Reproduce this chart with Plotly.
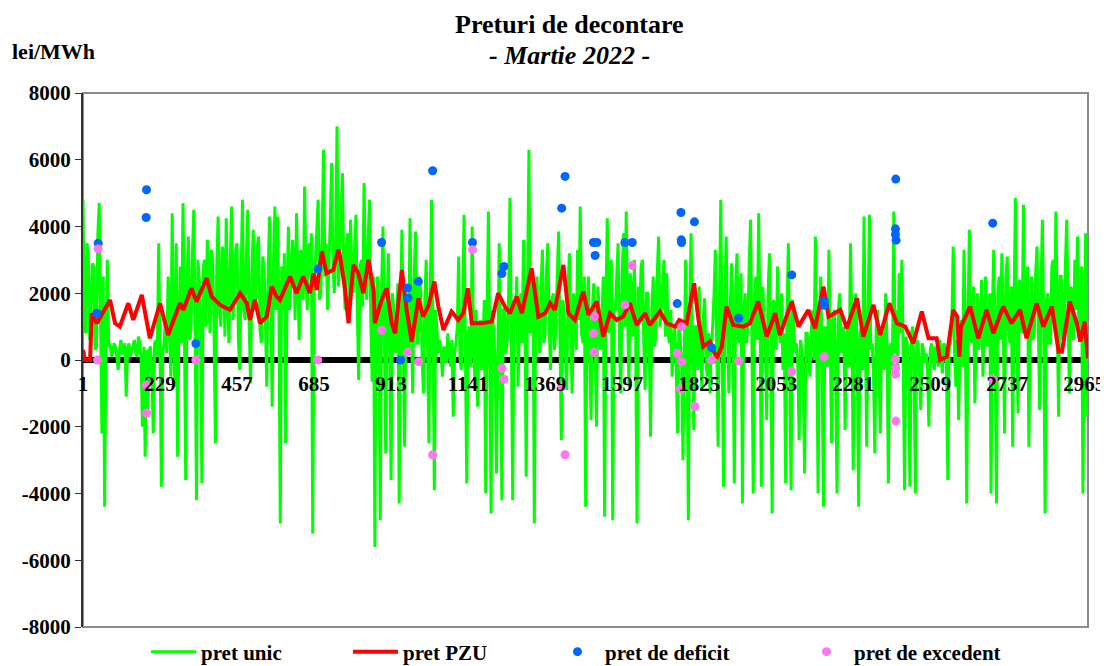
import plotly.graph_objects as go

# pret unic: one reading every 4 quarter-hours (24 per day, 31 days)
unic_step = 4
pret_unic = [
    4800, 1500, 800, 3500, 3000, 600, 1500, 2900, 2800, 300, 400, 3800, 4700, 1000, -2200, 2500, -4400, 600, 3000, 400, 500, 100, 200, 500,
    400, 100, -300, 300, 600, 200, 200, 500, -1100, 300, 500, 100, 300, 400, 600, 200, 100, 700, 500, 0, -2000, 400, -2900, 300,
    -1600, 300, 400, -400, -2200, 500, 600, 100, 3500, 400, -3800, 200, 500, 1200, 200, 2500, 1500, -500, 4400, 800, -800, 3500, -2900, 1000,
    2800, 500, 4700, 1200, -3600, 2500, 3700, 600, 1000, 3200, 4500, 800, -4200, 3000, 2500, 500, -3700, 2800, 3000, 1000, 3600, 2000, 800, 3300,
    3000, 800, -2500, 2800, 4300, 1500, 1000, 3400, 3200, 700, 4250, 1800, 500, 3000, 4600, 1200, 2000, 3300, 3500, 600, -300, 2500, 4800, 1500,
    1200, 3200, 4500, 1000, -700, 2600, 3900, 1500, 2000, 3400, 3700, 900, 500, 3100, 2800, 1200, -800, 2500, 4300, 1800, -1400, 3000, 4600, 1500,
    4300, 1500, -4900, 2800, 1500, 3200, -2500, 2000, 4000, 1500, 2500, 3600, 3000, 1200, 4400, 2200, 600, 3300, 3000, 1800, 5200, 2400, 1500, 3500,
    2500, 3800, -5200, 2000, 3000, 4000, 4800, 1800, 2000, 3600, 6300, 2500, 3500, 1500, 2600, 4200, 5900, 2800, 2000, 3500, 7000, 2200, 3000, 4300,
    5600, 2500, 1500, 3500, 3800, 1800, 4200, 2600, 2000, 3400, 4350, 1500, -600, 2800, 3000, 1600, 5300, 2500, 1800, 3600, 4800, 1200, -650, 2500,
    -5600, 1800, 2500, 500, -4800, 2200, 4000, 800, -2800, 1500, 3200, 300, -3600, 2000, 1500, 200, 500, 2300, -4300, 1200, 3900, 600, -2600, 1800,
    1500, 300, 4250, 1200, -1000, 2200, 3850, 500, 500, 2500, 2000, 0, -1000, 1800, 3000, 400, -2500, 2000, 4800, 800, -3900, 1500, 800, 200,
    600, 200, -500, 400, 300, -100, 800, 300, -200, 600, -1700, 200, 500, 1000, 3100, 0, -300, 1500, 4350, 300, -3700, 800, 1000, -200,
    4000, 500, -600, 1500, -1400, 800, 1200, -300, 500, 1800, -4000, 1000, 4450, 200, -4600, 1500, 800, 0, -3400, 1200, 3500, 500, -4200, 1500,
    1500, 200, 600, 2000, 4850, 800, -4200, 1800, 1000, 2500, -800, 1200, 2000, 500, 3600, 1500, -3500, 2200, 6300, 800, 1000, 2400, -4900, 1500,
    2500, 800, 200, 2200, 3300, 500, 800, 2600, 3500, 1000, -300, 1800, 2000, 300, 1000, 2500, 3850, 600, -2400, 1800, 1500, 200, -900, 2200,
    3200, 600, -1000, 2000, 1500, 300, 3300, 1200, 4600, 800, 500, 2500, -4400, 1500, 2500, 200, -1800, 1600, 2300, 400, -2000, 2200, 1500, 300,
    1000, 2500, -4700, 1800, 4250, 800, 2000, 3000, -4800, 1500, 1500, 2800, 3500, 500, -1000, 2500, 3800, 1000, 4450, 1500, -800, 2600, 2000, 700,
    3000, 800, -4900, 2200, 1200, 2800, 3000, 500, -900, 2000, 2000, 600, -2300, 1500, 2500, 400, 800, 2600, 3700, 1000, 1500, 2400, 3000, 700,
    2600, 800, 500, 1500, -500, 600, 1000, -200, -2200, 1200, 500, 0, -3000, 1000, 3000, 500, -4800, 1200, 3800, 300, -2100, 1000, 1000, -300,
    2200, 300, -900, 1200, 1850, 0, -500, 800, -1000, 500, 1000, 2000, 3300, 400, -2600, 1800, 4800, 500, -3800, 2000, 3700, 800, -1000, 1500,
    2900, 800, -3700, 2200, 3200, 600, 500, 2600, -4300, 1500, 2000, 500, 1000, 2800, 4200, 800, -4000, 2000, 2500, 600, 4400, 1500, -3800, 2200,
    1500, 500, -1800, 2000, 3200, 600, -4600, 1800, 1500, 300, 2800, 1000, 500, 2000, -300, 800, -3700, 1500, 3500, 500, -3900, 1800, 1000, 200,
    500, -200, -2400, 600, 300, -500, -3400, 800, 800, 100, -500, 900, 1500, 0, 3700, 600, -4000, 1200, 2500, -300, -4400, 1000, 800, -200,
    3300, 500, -2500, 1200, 1500, -300, -4000, 1500, 2000, 200, 500, 1000, -2100, 600, 1000, -200, 3500, 800, -3300, 1500, 2000, 0, -4400, 800,
    1000, -300, 4300, 600, -2600, 1200, 4350, 300, 500, -400, -2800, 900, 1500, 0, -2200, 800, 800, -300, 2000, 600, -3700, 400, 500, -200,
    4450, 200, 1500, -300, 2600, 800, 3000, 0, -3900, 700, 500, -500, -3800, 800, 1000, -200, -4000, 600, 500, -300, -1500, 500, 300, -100,
    200, -300, -2000, 300, 500, 0, -300, 400, 300, -200, 600, 200, -400, 500, 400, -100, -3600, 300, 500, 1000, 3400, 200, -800, 600,
    -1800, 500, 1200, -200, 3300, 800, -4300, 1500, 3900, 600, 500, 2200, -1300, 800, 2000, 300, 1000, 2400, -500, 1200, 2500, 400, 800, 2000,
    -4000, 1500, 3300, 500, -4300, 2000, 2500, 600, 3200, 1200, -2200, 2500, 3100, 800, 500, 2200, -2600, 1500, 4850, 700, -1600, 2400, 2000, 800,
    4650, 800, 1500, 2800, -2600, 1200, 2500, 600, 800, 2600, 3400, 1000, -1500, 2200, 4200, 900, -4600, 1800, 2000, 500, 500, 2800, 3000, 1200,
    4450, 1200, -1700, 2500, 2500, 600, 1000, 2800, 4200, 1500, -1000, 2200, 2000, 600, 3000, 1500, 3700, 800, 1500, 2800, -4000, 1200, 3800, -1700,
]
unic_idx = [1 + unic_step * i for i in range(len(pret_unic))]

pzu_idx = [1, 7, 22, 27, 42, 81, 96, 110, 135, 150, 175, 199, 229, 253, 288, 298,
           322, 337, 367, 382, 407, 436, 466, 486, 495, 510, 525, 545, 560, 574, 584, 614,
           633, 653, 673, 683, 693, 708, 722, 742, 757, 762, 777, 787, 801, 816, 831, 846,
           861, 865, 885, 900, 915, 925, 945, 959, 974, 994, 1008, 1023, 1041, 1053, 1068, 1092,
           1112, 1127, 1140, 1152, 1181, 1211, 1230, 1250, 1265, 1285, 1300, 1329, 1349, 1369, 1384, 1398,
           1423, 1438, 1457, 1482, 1497, 1522, 1541, 1561, 1581, 1600, 1620, 1640, 1665, 1679, 1709, 1729,
           1754, 1766, 1788, 1810, 1823, 1837, 1857, 1877, 1892, 1906, 1926, 1956, 1975, 2000, 2025, 2050,
           2064, 2099, 2119, 2148, 2168, 2193, 2208, 2243, 2262, 2292, 2311, 2341, 2361, 2388, 2410, 2435,
           2459, 2484, 2504, 2528, 2538, 2558, 2577, 2589, 2595, 2600, 2627, 2651, 2676, 2696, 2725, 2750,
           2775, 2794, 2824, 2844, 2869, 2889, 2899, 2922, 2943, 2953, 2966, 2976]
pzu_val = [300, 0, 0, 1400, 1100, 1800, 1100, 1000, 1700, 1200, 1950, 650, 1700, 750, 1700, 1500,
           2150, 1750, 2450, 1900, 1650, 1500, 2000, 1700, 1200, 1800, 1100, 1300, 2200, 1900, 1800, 2500,
           2000, 2500, 2000, 2600, 2100, 3250, 2600, 2700, 3300, 3100, 2100, 1100, 2850, 2600, 2000, 3000,
           2100, 1100, 1800, 2150, 1100, 800, 2700, 1500, 550, 1850, 1300, 1600, 2350, 1600, 900, 1450,
           1200, 1400, 2150, 1100, 1100, 1150, 2000, 1600, 1400, 1900, 1400, 2750, 1300, 1400, 1700, 1500,
           2850, 1400, 1200, 2050, 1350, 1750, 700, 1400, 1200, 1300, 1700, 1050, 1400, 1050, 1450, 1100,
           1000, 1200, 1100, 2300, 1200, 400, 550, 50, 400, 1600, 1050, 1000, 1100, 1750, 700, 1400,
           750, 1750, 1000, 1500, 950, 2200, 1300, 1500, 950, 1850, 700, 1650, 750, 1700, 1100, 1000,
           500, 1450, 650, 650, 0, 100, 1500, 1300, 100, 1000, 1600, 650, 1500, 800, 1600, 1100,
           1500, 650, 1700, 1000, 1600, 250, 250, 1750, 1100, 550, 1150, 50]

deficit_idx = [42, 46, 188, 189, 335, 696, 885, 941, 962, 963, 994, 1036, 1154, 1241, 1247,
               1418, 1428, 1512, 1517, 1522, 1605, 1627, 1760, 1771, 1772, 1773, 1811, 1862,
               1942, 2099, 2195, 2196, 2406, 2406, 2407, 2408, 2694]
deficit_val = [1400, 3500, 4270, 5100, 490, 2730, 3520, 0, 2160, 1860, 2350, 5670, 3520, 2590, 2800,
               4550, 5500, 3520, 3130, 3520, 3520, 3520, 1690, 4420, 3600, 3520, 4140, 370,
               1250, 2550, 1770, 1640, 3930, 3760, 5420, 3590, 4100]

excedent_idx = [44, 46, 188, 189, 335, 696, 885, 962, 994, 1036, 1154, 1241, 1247, 1418, 1428,
                1512, 1514, 1515, 1605, 1626, 1760, 1770, 1773, 1773, 1812, 1862, 1942, 2099, 2195,
                2406, 2406, 2406, 2407, 2694]
excedent_val = [0, 3330, -760, -1590, 0, 0, 890, 230, -50, -2840, 3300, -250, -580, -800, -2840,
                800, 230, 1300, 1650, 2830, 200, -870, 1000, -50, -1390, 0, -30, -340, 100,
                30, -250, -430, -1830, -570]

x_ticks = [1, 229, 457, 685, 913, 1141, 1369, 1597, 1825, 2053, 2281, 2509, 2737, 2965]
y_ticks = [-8000, -6000, -4000, -2000, 0, 2000, 4000, 6000, 8000]

FONT = "Times New Roman, Liberation Serif, serif"

fig = go.Figure()
fig.add_trace(go.Scatter(x=unic_idx, y=pret_unic, mode="lines", name="pret unic",
                         line=dict(color="#00ff00", width=3), legend="legend"))
fig.add_trace(go.Scatter(x=pzu_idx, y=pzu_val, mode="lines", name="pret PZU",
                         line=dict(color="#ff0000", width=4), legend="legend"))
fig.add_trace(go.Scatter(x=deficit_idx, y=deficit_val, mode="markers", name="pret de deficit",
                         marker=dict(color="#0066ff", size=9), legend="legend"))
fig.add_trace(go.Scatter(x=excedent_idx, y=excedent_val, mode="markers", name="pret de excedent",
                         marker=dict(color="#ff77ee", size=9), legend="legend2"))

# plot frame
fig.add_shape(type="rect", xref="paper", yref="paper", x0=0, y0=0, x1=1, y1=1,
              line=dict(color="#8c8c8c", width=2), layer="below")

fig.update_xaxes(range=[1, 2976], tickvals=x_ticks, ticktext=[str(t) for t in x_ticks],
                 anchor="free", position=0.5, showline=False, showgrid=False,
                 zeroline=False, ticks="", ticklabelstandoff=9,
                 tickfont=dict(family=FONT, size=21, color="black", weight="bold"))
fig.update_yaxes(range=[-8000, 8000], tickvals=y_ticks, ticktext=[str(t) for t in y_ticks],
                 showgrid=False, zeroline=True, zerolinecolor="black", zerolinewidth=6,
                 showline=True, linecolor="#333333", linewidth=2,
                 ticks="outside", ticklen=6, tickcolor="#333333",
                 tickfont=dict(family=FONT, size=21, color="black", weight="bold"))

fig.add_annotation(text="<b>Preturi de decontare</b>", xref="paper", yref="paper",
                   x=(569 - 83) / 1005, y=1 + (93 - 25) / 534, yanchor="middle", showarrow=False,
                   font=dict(family=FONT, size=26, color="black"))
fig.add_annotation(text="<b><i>- Martie 2022 -</i></b>", xref="paper", yref="paper",
                   x=(569 - 83) / 1005, y=1 + (93 - 55) / 534, yanchor="middle", showarrow=False,
                   font=dict(family=FONT, size=26, color="black"))
fig.add_annotation(text="<b>lei/MWh</b>", xref="paper", yref="paper",
                   x=-73 / 1005, y=1 + (93 - 51) / 534, xanchor="left", yanchor="middle",
                   showarrow=False, font=dict(family=FONT, size=22, color="black"))

legend_font = dict(family=FONT, size=21, color="black", weight="bold")
# the page body adds an 8px offset, so the figure is 8px smaller than the window
fig.update_layout(
    width=1100, height=658,
    margin=dict(l=75, r=20, t=85, b=39, autoexpand=False),
    paper_bgcolor="white", plot_bgcolor="white",
    showlegend=True,
    legend=dict(orientation="h", x=(146 - 83) / 1005, y=-25 / 534, yanchor="middle",
                xanchor="left", entrywidth=142, entrywidthmode="pixels",
                itemwidth=45, font=legend_font, bgcolor="rgba(0,0,0,0)"),
    legend2=dict(orientation="h", x=(799 - 83) / 1005, y=-25 / 534, yanchor="middle",
                 xanchor="left", itemwidth=45, font=legend_font, bgcolor="rgba(0,0,0,0)"),
    hovermode=False,
)

fig.write_html("out.html")
